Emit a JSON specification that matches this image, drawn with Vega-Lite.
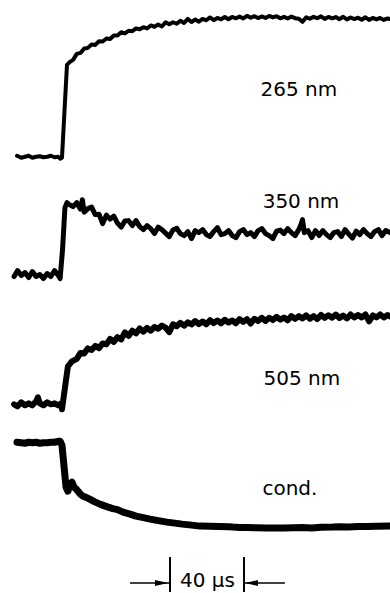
{
  "$schema": "https://vega.github.io/schema/vega-lite/v6.json",
  "width": 390,
  "height": 593,
  "autosize": {"type": "fit", "contains": "padding"},
  "padding": 0,
  "background": "white",
  "config": {"view": {"stroke": null}},
  "datasets": {
    "traces": [
      {"k":"265","t":-24.3,"a":437},{"k":"265","t":-22,"a":435},{"k":"265","t":-20,"a":436},{"k":"265","t":-18,"a":437},{"k":"265","t":-16,"a":435},{"k":"265","t":-14,"a":436},{"k":"265","t":-12,"a":436.5},{"k":"265","t":-10,"a":435.5},{"k":"265","t":-8,"a":436},{"k":"265","t":-6,"a":437},{"k":"265","t":-4,"a":435.5},{"k":"265","t":-2,"a":436},{"k":"265","t":-1,"a":434},{"k":"265","t":0,"a":435},{"k":"265","t":2.7,"a":528},{"k":"265","t":4.3,"a":531},{"k":"265","t":6,"a":533},{"k":"265","t":8,"a":539},{"k":"265","t":10,"a":540},{"k":"265","t":12,"a":544.5},{"k":"265","t":14,"a":545},{"k":"265","t":16,"a":548.5},{"k":"265","t":18,"a":548},{"k":"265","t":20,"a":551.7},{"k":"265","t":22,"a":551.5},{"k":"265","t":24,"a":554.5},{"k":"265","t":26,"a":554},{"k":"265","t":28,"a":557.5},{"k":"265","t":30,"a":557.5},{"k":"265","t":32,"a":560.7},{"k":"265","t":34,"a":559.5},{"k":"265","t":36,"a":562.2},{"k":"265","t":38,"a":561.8},{"k":"265","t":40,"a":564.5},{"k":"265","t":42,"a":563.7},{"k":"265","t":44,"a":565.8},{"k":"265","t":46,"a":564.5},{"k":"265","t":48,"a":567.5},{"k":"265","t":50,"a":566.2},{"k":"265","t":52,"a":568.4},{"k":"265","t":54,"a":566.5},{"k":"265","t":56,"a":570.7},{"k":"265","t":58,"a":568.7},{"k":"265","t":60,"a":570.7},{"k":"265","t":62,"a":569.2},{"k":"265","t":64,"a":572.2},{"k":"265","t":66,"a":570},{"k":"265","t":68,"a":574},{"k":"265","t":70,"a":571},{"k":"265","t":72,"a":573.4},{"k":"265","t":74,"a":571.3},{"k":"265","t":76,"a":574},{"k":"265","t":78,"a":572.7},{"k":"265","t":80,"a":575.5},{"k":"265","t":82,"a":572.8},{"k":"265","t":84,"a":575},{"k":"265","t":86,"a":573.7},{"k":"265","t":88,"a":576},{"k":"265","t":90,"a":573.7},{"k":"265","t":92,"a":576},{"k":"265","t":94,"a":574.7},{"k":"265","t":96,"a":576.4},{"k":"265","t":98,"a":574.5},{"k":"265","t":100,"a":577.1},{"k":"265","t":102,"a":575.2},{"k":"265","t":104,"a":576.8},{"k":"265","t":106,"a":574.9},{"k":"265","t":108,"a":576.5},{"k":"265","t":110,"a":575},{"k":"265","t":112,"a":577},{"k":"265","t":114,"a":575.5},{"k":"265","t":116,"a":576.8},{"k":"265","t":118,"a":574.7},{"k":"265","t":120,"a":576.1},{"k":"265","t":122,"a":574.5},{"k":"265","t":124,"a":576.4},{"k":"265","t":126,"a":574.8},{"k":"265","t":128,"a":574.2},{"k":"265","t":130,"a":571.2},{"k":"265","t":132,"a":575.7},{"k":"265","t":134,"a":574.2},{"k":"265","t":136,"a":576.2},{"k":"265","t":138,"a":574.7},{"k":"265","t":140,"a":576.7},{"k":"265","t":142,"a":574.1},{"k":"265","t":144,"a":576},{"k":"265","t":146,"a":574.5},{"k":"265","t":148,"a":575.9},{"k":"265","t":150,"a":573.8},{"k":"265","t":152,"a":576.2},{"k":"265","t":154,"a":573.6},{"k":"265","t":156,"a":575.5},{"k":"265","t":158,"a":573.9},{"k":"265","t":160,"a":575.3},{"k":"265","t":162,"a":573.2},{"k":"265","t":164,"a":575.7},{"k":"265","t":166,"a":573.1},{"k":"265","t":168,"a":575},{"k":"265","t":170,"a":573.5},{"k":"265","t":172,"a":575},{"k":"265","t":174,"a":573},{"k":"265","t":176,"a":574.5},{"k":"265","t":177.3,"a":574},

      {"k":"350","t":-25.9,"a":316},{"k":"350","t":-24,"a":322},{"k":"350","t":-22,"a":317},{"k":"350","t":-20,"a":320},{"k":"350","t":-18,"a":315},{"k":"350","t":-16,"a":321},{"k":"350","t":-14,"a":316},{"k":"350","t":-12,"a":318},{"k":"350","t":-10,"a":314},{"k":"350","t":-8,"a":319},{"k":"350","t":-6,"a":316},{"k":"350","t":-4,"a":322},{"k":"350","t":-2,"a":317},{"k":"350","t":-1,"a":314},{"k":"350","t":0.3,"a":343},{"k":"350","t":1.6,"a":385},{"k":"350","t":2.7,"a":390},{"k":"350","t":4,"a":388},{"k":"350","t":6,"a":386},{"k":"350","t":8,"a":390},{"k":"350","t":10,"a":383.5},{"k":"350","t":11,"a":393},{"k":"350","t":12,"a":380.5},{"k":"350","t":14,"a":384},{"k":"350","t":16,"a":385.5},{"k":"350","t":18,"a":378},{"k":"350","t":20,"a":378.5},{"k":"350","t":22,"a":369},{"k":"350","t":24,"a":377.5},{"k":"350","t":26,"a":373.5},{"k":"350","t":28,"a":376.5},{"k":"350","t":30,"a":369.5},{"k":"350","t":32,"a":365.5},{"k":"350","t":34,"a":371.7},{"k":"350","t":36,"a":372},{"k":"350","t":38,"a":367},{"k":"350","t":40,"a":372},{"k":"350","t":42,"a":366},{"k":"350","t":44,"a":363},{"k":"350","t":46,"a":367},{"k":"350","t":48,"a":364},{"k":"350","t":50,"a":359},{"k":"350","t":52,"a":365.5},{"k":"350","t":54,"a":363},{"k":"350","t":56,"a":359.5},{"k":"350","t":58,"a":356},{"k":"350","t":60,"a":362.7},{"k":"350","t":62,"a":364.4},{"k":"350","t":64,"a":359},{"k":"350","t":66,"a":357},{"k":"350","t":68,"a":361},{"k":"350","t":70,"a":354},{"k":"350","t":72,"a":362},{"k":"350","t":74,"a":360},{"k":"350","t":76,"a":363},{"k":"350","t":78,"a":358},{"k":"350","t":80,"a":356},{"k":"350","t":82,"a":361},{"k":"350","t":84,"a":365},{"k":"350","t":86,"a":358},{"k":"350","t":88,"a":359},{"k":"350","t":90,"a":362},{"k":"350","t":92,"a":357},{"k":"350","t":94,"a":355},{"k":"350","t":96,"a":361},{"k":"350","t":98,"a":363},{"k":"350","t":100,"a":358},{"k":"350","t":102,"a":360},{"k":"350","t":104,"a":356},{"k":"350","t":106,"a":362},{"k":"350","t":108,"a":364},{"k":"350","t":110,"a":359},{"k":"350","t":112,"a":357},{"k":"350","t":114,"a":354},{"k":"350","t":116,"a":361.5},{"k":"350","t":118,"a":362.5},{"k":"350","t":120,"a":359},{"k":"350","t":122,"a":364},{"k":"350","t":124,"a":360},{"k":"350","t":126,"a":357},{"k":"350","t":128,"a":363},{"k":"350","t":129,"a":367},{"k":"350","t":130,"a":373},{"k":"350","t":131,"a":360},{"k":"350","t":133,"a":362},{"k":"350","t":135,"a":355},{"k":"350","t":137,"a":362},{"k":"350","t":139,"a":357},{"k":"350","t":141,"a":362},{"k":"350","t":143,"a":358},{"k":"350","t":145,"a":355},{"k":"350","t":147,"a":360},{"k":"350","t":149,"a":361},{"k":"350","t":151,"a":356},{"k":"350","t":153,"a":363},{"k":"350","t":155,"a":358.5},{"k":"350","t":157,"a":354.5},{"k":"350","t":159,"a":361.5},{"k":"350","t":161,"a":358},{"k":"350","t":163,"a":363},{"k":"350","t":165,"a":359},{"k":"350","t":167,"a":356},{"k":"350","t":169,"a":361},{"k":"350","t":171,"a":363},{"k":"350","t":173,"a":357},{"k":"350","t":175,"a":362},{"k":"350","t":177.3,"a":360},

      {"k":"505","t":-25.9,"a":188},{"k":"505","t":-24,"a":186},{"k":"505","t":-22,"a":190},{"k":"505","t":-20,"a":187},{"k":"505","t":-18,"a":189},{"k":"505","t":-16,"a":187},{"k":"505","t":-14,"a":191},{"k":"505","t":-13,"a":195},{"k":"505","t":-12,"a":189},{"k":"505","t":-10,"a":187},{"k":"505","t":-8,"a":190},{"k":"505","t":-6,"a":188},{"k":"505","t":-4,"a":189},{"k":"505","t":-2,"a":187},{"k":"505","t":-0.5,"a":189},{"k":"505","t":0,"a":183},{"k":"505","t":3.2,"a":226},{"k":"505","t":5.4,"a":231},{"k":"505","t":8,"a":233.5},{"k":"505","t":10,"a":239.5},{"k":"505","t":12,"a":239},{"k":"505","t":14,"a":244},{"k":"505","t":16,"a":242.5},{"k":"505","t":18,"a":246.5},{"k":"505","t":20,"a":244.3},{"k":"505","t":22,"a":249},{"k":"505","t":24,"a":248},{"k":"505","t":26,"a":253.5},{"k":"505","t":28,"a":250.5},{"k":"505","t":30,"a":255.2},{"k":"505","t":32,"a":253},{"k":"505","t":34,"a":260},{"k":"505","t":36,"a":256.5},{"k":"505","t":38,"a":261.8},{"k":"505","t":40,"a":259},{"k":"505","t":42,"a":264},{"k":"505","t":44,"a":260.8},{"k":"505","t":46,"a":264.5},{"k":"505","t":48,"a":261.7},{"k":"505","t":50,"a":265.5},{"k":"505","t":52,"a":263.7},{"k":"505","t":54,"a":266.9},{"k":"505","t":56,"a":264.9},{"k":"505","t":58,"a":260.3},{"k":"505","t":60,"a":268.2},{"k":"505","t":62,"a":266.2},{"k":"505","t":64,"a":269.7},{"k":"505","t":66,"a":266.7},{"k":"505","t":68,"a":270.1},{"k":"505","t":70,"a":268},{"k":"505","t":72,"a":271.4},{"k":"505","t":74,"a":268.3},{"k":"505","t":76,"a":271},{"k":"505","t":78,"a":268.2},{"k":"505","t":80,"a":272.3},{"k":"505","t":82,"a":269.4},{"k":"505","t":84,"a":272},{"k":"505","t":86,"a":269.1},{"k":"505","t":88,"a":272.7},{"k":"505","t":90,"a":269.9},{"k":"505","t":92,"a":272},{"k":"505","t":94,"a":269.2},{"k":"505","t":96,"a":273.4},{"k":"505","t":98,"a":270.6},{"k":"505","t":100,"a":273.3},{"k":"505","t":102,"a":269},{"k":"505","t":104,"a":273.7},{"k":"505","t":106,"a":271.4},{"k":"505","t":108,"a":274.7},{"k":"505","t":110,"a":271.5},{"k":"505","t":112,"a":274.7},{"k":"505","t":114,"a":272.4},{"k":"505","t":116,"a":275.6},{"k":"505","t":118,"a":272.8},{"k":"505","t":120,"a":275},{"k":"505","t":122,"a":272.2},{"k":"505","t":124,"a":276.4},{"k":"505","t":126,"a":273.6},{"k":"505","t":128,"a":276.3},{"k":"505","t":130,"a":274},{"k":"505","t":132,"a":277.1},{"k":"505","t":134,"a":273.7},{"k":"505","t":136,"a":276.3},{"k":"505","t":138,"a":273.4},{"k":"505","t":140,"a":277.5},{"k":"505","t":142,"a":274.6},{"k":"505","t":144,"a":277.2},{"k":"505","t":146,"a":274.8},{"k":"505","t":148,"a":277.9},{"k":"505","t":150,"a":274.5},{"k":"505","t":152,"a":277},{"k":"505","t":154,"a":274},{"k":"505","t":156,"a":278},{"k":"505","t":158,"a":275},{"k":"505","t":160,"a":277.5},{"k":"505","t":162,"a":275},{"k":"505","t":164,"a":278},{"k":"505","t":166,"a":271},{"k":"505","t":168,"a":277},{"k":"505","t":170,"a":275},{"k":"505","t":172,"a":278},{"k":"505","t":174,"a":275},{"k":"505","t":176,"a":277.5},{"k":"505","t":177.3,"a":276},

      {"k":"cond","t":-24.3,"a":150},{"k":"cond","t":-22,"a":149.5},{"k":"cond","t":-20,"a":149},{"k":"cond","t":-18,"a":150},{"k":"cond","t":-16,"a":149.5},{"k":"cond","t":-14,"a":150},{"k":"cond","t":-12,"a":149},{"k":"cond","t":-10,"a":149.5},{"k":"cond","t":-8,"a":149.5},{"k":"cond","t":-6,"a":150},{"k":"cond","t":-4,"a":150},{"k":"cond","t":-2,"a":151},{"k":"cond","t":-1,"a":151},{"k":"cond","t":0,"a":147},{"k":"cond","t":2.2,"a":105},{"k":"cond","t":3.2,"a":101},{"k":"cond","t":4.3,"a":108},{"k":"cond","t":5.4,"a":110},{"k":"cond","t":6.5,"a":105},{"k":"cond","t":8,"a":102.5},{"k":"cond","t":10,"a":98},{"k":"cond","t":11.4,"a":96},{"k":"cond","t":13,"a":94.8},{"k":"cond","t":15,"a":93},{"k":"cond","t":17.5,"a":90.5},{"k":"cond","t":20.5,"a":88},{"k":"cond","t":23,"a":86.3},{"k":"cond","t":25,"a":85},{"k":"cond","t":27.5,"a":83.5},{"k":"cond","t":30,"a":82.5},{"k":"cond","t":33,"a":80},{"k":"cond","t":36.8,"a":78},{"k":"cond","t":40,"a":76},{"k":"cond","t":44,"a":74.5},{"k":"cond","t":47.6,"a":73},{"k":"cond","t":52,"a":71.5},{"k":"cond","t":56.8,"a":70},{"k":"cond","t":61,"a":69},{"k":"cond","t":65,"a":68},{"k":"cond","t":70,"a":67},{"k":"cond","t":74.6,"a":66},{"k":"cond","t":80,"a":65.8},{"k":"cond","t":85,"a":65.5},{"k":"cond","t":90,"a":65.3},{"k":"cond","t":92.4,"a":65},{"k":"cond","t":96,"a":64.7},{"k":"cond","t":100,"a":64.5},{"k":"cond","t":105,"a":64.3},{"k":"cond","t":110.8,"a":64},{"k":"cond","t":115,"a":64.2},{"k":"cond","t":120,"a":64},{"k":"cond","t":125,"a":64.3},{"k":"cond","t":130,"a":64.5},{"k":"cond","t":135,"a":64.2},{"k":"cond","t":140,"a":64.8},{"k":"cond","t":146.5,"a":65},{"k":"cond","t":150,"a":65.3},{"k":"cond","t":155,"a":65},{"k":"cond","t":160,"a":65.5},{"k":"cond","t":165,"a":65.5},{"k":"cond","t":170,"a":65.8},{"k":"cond","t":177.3,"a":66}
    ],
    "labels": [
      {"text":"265 nm","t":128,"a":503},
      {"text":"350 nm","t":129.2,"a":391},
      {"text":"505 nm","t":129.7,"a":213},
      {"text":"cond.","t":123.2,"a":103},
      {"text":"40 μs","t":78.6,"a":11}
    ],
    "bar": [
      {"t":58.4,"t2":58.4,"a":0,"a2":35,"w":"v"},
      {"t":98.4,"t2":98.4,"a":0,"a2":35,"w":"v"},
      {"t":36.8,"t2":58.4,"a":9,"a2":9,"w":"h"},
      {"t":98.4,"t2":120.5,"a":9,"a2":9,"w":"h"}
    ],
    "heads": [
      {"t":53.8,"a":9,"dir":"right"},
      {"t":102.4,"a":9,"dir":"left"}
    ]
  },
  "layer": [
    {
      "data": {"name": "traces"},
      "mark": {"type": "line", "color": "#000000", "strokeJoin": "round", "strokeCap": "round", "clip": true},
      "encoding": {
        "x": {"field": "t", "type": "quantitative", "scale": {"domain": [-33.5, 177.3], "nice": false, "zero": false}, "axis": null},
        "y": {"field": "a", "type": "quantitative", "scale": {"domain": [0, 593], "nice": false, "zero": false}, "axis": null},
        "detail": {"field": "k", "type": "nominal"},
        "strokeWidth": {"field": "k", "type": "nominal", "scale": {"domain": ["265", "350", "505", "cond"], "range": [4, 7, 5, 3.5]}, "legend": null}
      }
    },
    {
      "data": {"name": "bar"},
      "transform": [{"filter": "datum.w === 'v'"}],
      "mark": {"type": "rule", "color": "#000000", "strokeWidth": 2},
      "encoding": {
        "x": {"field": "t", "type": "quantitative"},
        "x2": {"field": "t2"},
        "y": {"field": "a", "type": "quantitative"},
        "y2": {"field": "a2"}
      }
    },
    {
      "data": {"name": "bar"},
      "transform": [{"filter": "datum.w === 'h'"}],
      "mark": {"type": "rule", "color": "#000000", "strokeWidth": 1.5},
      "encoding": {
        "x": {"field": "t", "type": "quantitative"},
        "x2": {"field": "t2"},
        "y": {"field": "a", "type": "quantitative"},
        "y2": {"field": "a2"}
      }
    },
    {
      "data": {"name": "heads"},
      "mark": {"type": "point", "filled": true, "color": "#000000", "opacity": 1, "size": 169, "strokeWidth": 0},
      "encoding": {
        "x": {"field": "t", "type": "quantitative"},
        "y": {"field": "a", "type": "quantitative"},
        "shape": {"field": "dir", "type": "nominal", "scale": {"domain": ["right", "left"], "range": ["M-1,-0.45L1,0L-1,0.45Z", "M1,-0.45L-1,0L1,0.45Z"]}, "legend": null}
      }
    },
    {
      "data": {"name": "labels"},
      "mark": {"type": "text", "font": "DejaVu Sans", "fontSize": 20, "color": "#000000", "align": "center", "baseline": "middle"},
      "encoding": {
        "x": {"field": "t", "type": "quantitative"},
        "y": {"field": "a", "type": "quantitative"},
        "text": {"field": "text", "type": "nominal"}
      }
    }
  ]
}
